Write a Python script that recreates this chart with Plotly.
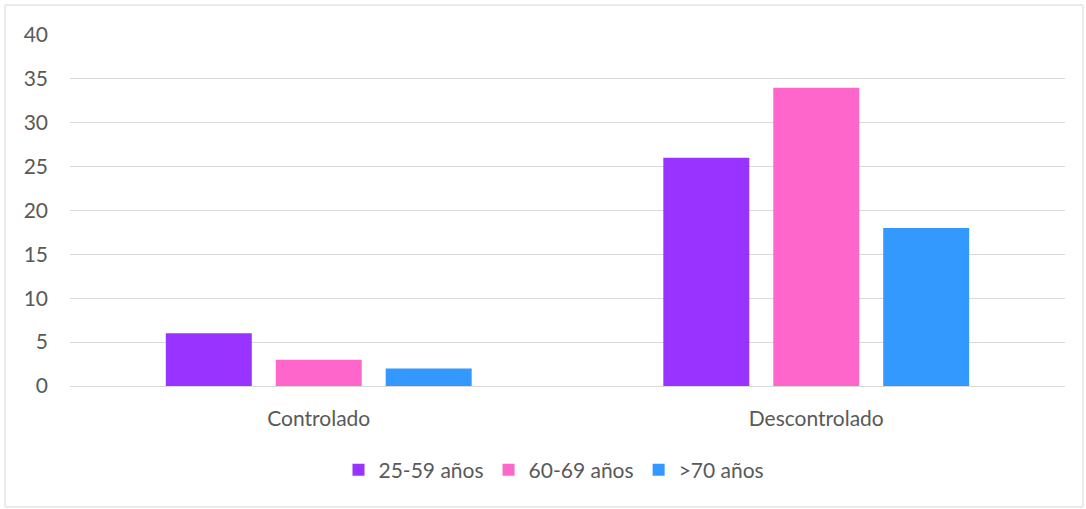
import plotly.graph_objects as go

categorias = ["Controlado", "Descontrolado"]
series = ["25-59 años", "60-69 años", ">70 años"]
valores_25_59 = [6, 26]
valores_60_69 = [3, 34]
valores_70 = [2, 18]
colores = ["#9933FF", "#FF66CC", "#3399FF"]

fig = go.Figure()
for nombre, vals, col in zip(series, [valores_25_59, valores_60_69, valores_70], colores):
    fig.add_trace(go.Bar(x=categorias, y=vals, name=nombre, marker_color=col, marker_line_width=0))

W, H = 1086, 509
ml, mr, mt, mb = 70, 21, 35, 123
pw, ph = W - ml - mr, H - mt - mb

fig.update_layout(
    width=W, height=H,
    margin=dict(l=ml, r=mr, t=mt, b=mb),
    paper_bgcolor="white", plot_bgcolor="white",
    font=dict(family="Lato, Open Sans, sans-serif", size=21, color="#595959"),
    barmode="group", bargap=0.337, bargroupgap=0.218,
    legend=dict(orientation="h", x=(554 - ml) / pw, xanchor="center", y=(386 - 470) / ph, yanchor="middle",
                font=dict(size=21), itemwidth=30, traceorder="normal"),
    shapes=[dict(type="rect", xref="paper", yref="paper",
                 x0=(5 - ml) / pw, x1=(1083 - ml) / pw,
                 y0=(H - mb - 507) / ph, y1=(H - mb - 5) / ph,
                 line=dict(color="#D9D9D9", width=1), layer="below")],
)
fig.update_yaxes(range=[0, 40], dtick=5, showgrid=True, gridcolor="#D9D9D9", gridwidth=1,
                 zeroline=False, showline=False, ticks="", ticklabelstandoff=21)
fig.update_xaxes(showgrid=False, showline=True, linecolor="#D9D9D9", ticks="", ticklabelstandoff=14)

fig.write_html("out.html", config={"displayModeBar": False},
               post_script="document.body.style.margin='0';")
